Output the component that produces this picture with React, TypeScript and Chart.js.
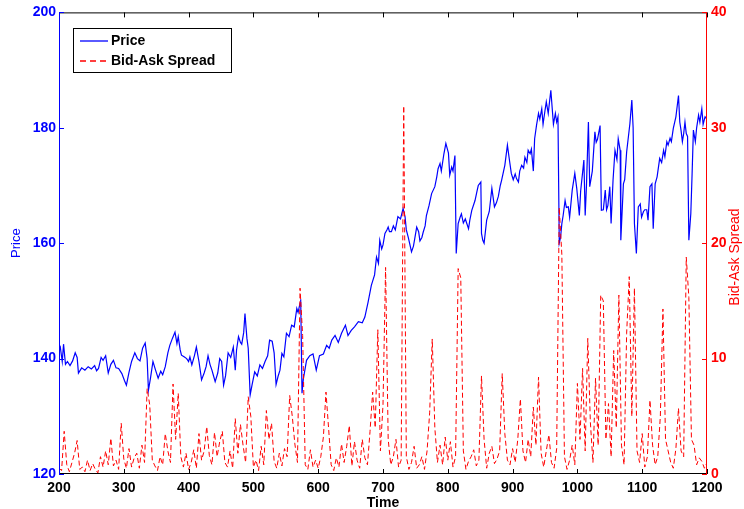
import React, { useEffect, useRef } from "react";
import { Chart, registerables } from "chart.js";

Chart.register(...registerables);

const priceTime = [
  200, 202, 205, 207, 210, 213, 217, 221, 225, 228, 230, 235, 240, 245, 250, 255, 258, 261, 265, 268,
  272, 276, 280, 284, 288, 292, 297, 301, 304, 308, 312, 317, 321, 325, 329, 333, 336, 338, 341, 345,
  349, 353, 357, 360, 364, 368, 371, 375, 379, 382, 384, 387, 389, 393, 397, 400, 402, 405, 409, 412,
  416, 420, 424, 427, 430, 433, 436, 438, 441, 445, 448, 451, 454, 457, 461, 465, 469, 472, 474, 477,
  480, 482, 485, 487, 490, 492, 495, 498, 502, 506, 510, 514, 518, 522, 525, 529, 532, 535, 538, 541,
  544, 547, 551, 555, 559, 563, 567, 569, 572, 573, 575, 577, 582, 587, 592, 597, 602, 608, 613, 617,
  621, 626, 631, 636, 642, 646, 651, 656, 662, 668, 672, 677, 682, 687, 690, 693, 695, 698, 700, 703,
  706, 708, 710, 713, 716, 719, 723, 727, 731, 734, 736, 739, 741, 744, 747, 749, 752, 755, 757, 760,
  762, 765, 767, 771, 775, 780, 783, 785, 788, 790, 794, 797, 801, 803, 806, 808, 811, 813, 816, 819,
  821, 824, 827, 832, 834, 837, 842, 845, 847, 851, 852, 854, 856, 860, 864, 868, 872, 875, 878, 881,
  883, 888, 892, 895, 898, 901, 904, 906, 909, 911, 914, 917, 919, 922, 924, 927, 929, 932, 934, 937,
  940, 942, 945, 947, 950, 952, 955, 959, 963, 966, 968, 970, 972, 974, 976, 978, 981, 983, 986, 988,
  992, 996, 999, 1003, 1005, 1010, 1012, 1014, 1017, 1019, 1023, 1027, 1029, 1031, 1035, 1037, 1040, 1043, 1045, 1047,
  1050, 1052, 1055, 1058, 1061, 1063, 1066, 1067, 1071, 1073, 1076, 1081, 1084, 1086, 1088, 1091, 1094, 1097, 1099, 1102,
  1104, 1107, 1109, 1112, 1115, 1117, 1120, 1123, 1127, 1130, 1133, 1135, 1138, 1140, 1143, 1145, 1148, 1152, 1156, 1158,
  1160, 1162, 1164, 1166, 1168, 1170, 1172, 1175, 1177, 1179, 1182, 1184, 1187, 1189, 1192, 1194, 1197, 1200,
];

const priceValue = [
  141.5, 142.0, 139.5, 142.5, 139.0, 139.5, 138.8, 139.6, 141.0, 140.2, 137.5, 138.4, 138.0, 138.6, 138.2, 138.8, 137.9, 138.3, 140.2, 139.7,
  140.5, 137.5, 139.0, 139.7, 138.4, 138.3, 137.4, 136.2, 135.4, 137.6, 139.5, 141.0, 140.0, 139.6, 141.8, 142.7, 140.0, 134.5, 136.5, 139.5,
  138.0, 136.6, 137.8, 137.2, 138.6, 141.0, 142.3, 143.5, 144.6, 142.6, 143.8, 141.5, 140.6, 140.3, 140.0, 139.5, 140.3, 138.9, 140.5, 142.0,
  139.5, 136.3, 137.5, 138.6, 140.5, 139.0, 138.0, 137.2, 136.0, 137.5, 140.0, 139.5, 135.4, 137.0, 141.0, 140.2, 142.0, 138.0, 141.5, 143.8,
  142.8, 142.5, 144.5, 147.8, 143.5, 141.8, 133.7, 135.5, 137.7, 137.0, 138.9, 138.3, 139.5, 140.5, 143.2, 143.0, 141.0, 135.5, 136.9, 138.0,
  140.9, 140.3, 144.4, 143.8, 145.8, 145.5, 148.7, 148.0, 149.6, 150.3, 134.0, 136.4, 139.7, 140.5, 140.8, 138.0, 140.5, 140.8, 142.3, 141.8,
  143.2, 144.0, 142.8, 144.4, 145.8, 144.0, 144.9, 145.5, 146.4, 146.2, 147.2, 149.8, 152.7, 154.5, 157.6, 156.5, 160.5, 159.0, 159.7, 161.7,
  162.3, 162.8, 162.0, 162.0, 163.0, 162.3, 164.6, 164.2, 166.0, 164.6, 162.3, 161.0, 160.0, 158.5, 159.5, 160.8, 162.8, 162.0, 160.4, 161.0,
  161.9, 163.0, 164.8, 166.5, 168.6, 169.8, 171.5, 172.9, 173.8, 172.5, 175.5, 177.3, 175.6, 171.8, 173.2, 172.5, 175.2, 158.2, 163.4, 164.5,
  165.1, 163.5, 164.2, 162.5, 164.0, 165.7, 167.4, 169.0, 170.0, 170.6, 161.7, 160.5, 160.0, 164.0, 165.5, 169.5, 166.3, 167.0, 168.1, 170.0,
  170.9, 173.5, 177.0, 174.5, 172.1, 171.0, 172.0, 171.2, 170.6, 172.5, 173.5, 173.0, 174.9, 174.0, 176.1, 175.5, 176.3, 172.5, 178.1, 180.5,
  182.5, 181.5, 183.3, 180.6, 183.0, 184.5, 182.5, 186.5, 180.6, 182.5, 181.0, 181.9, 160.0, 161.0, 163.4, 164.8, 167.4, 166.2, 166.3, 164.5,
  169.2, 172.1, 169.5, 164.8, 169.0, 174.4, 164.8, 170.0, 181.0, 169.8, 172.5, 179.3, 177.5, 178.0, 180.4, 165.7, 165.8, 169.2, 165.8, 166.5,
  169.8, 163.4, 170.9, 176.1, 174.5, 178.1, 176.1, 160.5, 170.3, 171.0, 175.8, 180.7, 184.8, 180.0, 163.4, 158.2, 166.3, 166.8, 164.5, 165.5,
  165.8, 165.8, 164.0, 169.8, 170.3, 162.5, 170.3, 171.5, 174.7, 174.0, 176.1, 175.0, 177.6, 177.0, 178.2, 177.6, 179.9, 181.9, 185.6, 181.0,
  179.5, 177.6, 179.0, 181.0, 179.0, 178.5, 160.5, 165.1, 172.0, 179.6, 177.6, 180.0, 182.2, 181.0, 183.3, 180.6, 181.9, 181.5,
];

// Bid-ask spread sampled every 4 time units starting at 200
const spreadStart = 200;
const spreadStep = 4;
const spreadValue = [
  0.5, 0.3, 3.7, 0.8, 0.2, 1.0, 1.8, 2.9, 0.4, 0.6,
  0.2, 1.2, 0.3, 0.9, 0.4, 0.1, 1.5, 0.6, 2.0, 0.8,
  3.1, 0.7, 1.2, 0.4, 4.4, 1.3, 0.5, 2.2, 0.6, 1.4,
  1.8, 0.5, 2.5, 1.0, 7.4, 6.0, 1.2, 0.7, 0.3, 1.5,
  0.8, 3.5, 2.0, 1.0, 7.8, 3.0, 7.0, 1.5, 0.6, 1.8,
  0.4, 1.0, 2.1, 0.5, 3.5, 1.2, 2.0, 4.1, 1.6, 0.8,
  3.6, 1.5, 2.8, 3.7, 1.0, 0.6, 2.0, 0.5, 4.8, 1.8,
  4.3, 2.5, 1.0, 6.7, 5.0, 0.6, 1.2, 0.3, 2.4, 0.8,
  5.5, 3.0, 4.4, 1.1, 0.5, 1.8, 0.7, 2.2, 1.5, 6.8,
  5.0, 2.6, 1.0, 16.1, 12.0, 0.8, 0.4, 2.1, 0.6, 1.2,
  0.5, 1.5, 3.2, 7.1, 4.0, 0.8, 0.3, 1.4, 0.6, 2.6,
  1.0, 2.4, 4.2, 0.7, 2.8, 1.2, 0.5, 3.0, 1.4, 0.8,
  3.7, 7.1, 4.0, 12.5, 2.0, 6.0, 17.9, 3.0, 0.8, 1.5,
  3.0, 0.6, 1.2, 31.9, 1.5, 0.4, 1.0, 2.4, 0.5, 0.8,
  1.5, 0.4, 2.0, 5.3, 11.7, 4.0, 1.0, 2.5, 0.8, 3.2,
  1.2, 2.8, 0.6, 1.5, 17.8, 17.0, 2.0, 0.4, 1.1, 1.5,
  2.1, 0.7, 1.2, 8.5, 3.0, 0.5, 1.8, 2.4, 0.9, 1.3,
  2.0, 8.7, 3.5, 1.2, 0.8, 2.2, 1.0, 3.0, 6.5, 2.0,
  1.0, 3.0, 1.5, 5.8, 2.5, 8.4, 1.8, 0.6, 2.0, 3.4,
  1.0, 0.5, 2.2, 23.1, 19.0, 1.5, 0.4, 1.2, 2.5, 0.8,
  7.85, 3.0, 9.15, 2.0, 11.75, 4.5, 1.0, 8.3, 2.5, 15.5,
  15.0, 3.0, 6.1, 1.5, 10.7, 4.0, 15.5, 2.5, 0.8, 12.2,
  17.1, 5.0, 16.1, 2.0, 1.0, 3.5, 0.6, 1.5, 6.4, 2.5,
  0.8, 1.5, 5.0, 14.3, 3.0, 2.0, 1.0, 0.5, 2.2, 5.7,
  2.0, 1.5, 18.8, 15.3, 3.0, 2.5, 0.8, 1.4, 1.1, 0.5,
  1.0,
];

const timeTicks = [200, 300, 400, 500, 600, 700, 800, 900, 1000, 1100, 1200];
const priceTicks = [120, 140, 160, 180, 200];
const spreadTicks = [0, 10, 20, 30, 40];

const BLUE = "#0000ff";
const RED = "#ff0000";
const FONT = "'Liberation Sans', Arial, Helvetica, sans-serif";

const framePlugin = {
  id: "framePlugin",
  afterDraw(chart: any) {
    const { ctx, chartArea, scales } = chart;
    const { left, right, top, bottom } = chartArea;
    const tl = 5;
    ctx.save();
    ctx.lineWidth = 1;
    ctx.setLineDash([]);
    // top & bottom borders
    ctx.strokeStyle = "#000";
    ctx.beginPath();
    ctx.moveTo(left, top + 0.5);
    ctx.lineTo(right, top + 0.5);
    ctx.moveTo(left, bottom - 0.5);
    ctx.lineTo(right, bottom - 0.5);
    for (const v of timeTicks) {
      const x = Math.round(scales.x.getPixelForValue(v)) + 0.5;
      ctx.moveTo(x, bottom);
      ctx.lineTo(x, bottom - tl);
      ctx.moveTo(x, top);
      ctx.lineTo(x, top + tl);
    }
    ctx.stroke();
    // left axis
    ctx.strokeStyle = BLUE;
    ctx.beginPath();
    ctx.moveTo(left + 0.5, top);
    ctx.lineTo(left + 0.5, bottom);
    for (const v of priceTicks) {
      const y = Math.round(scales.y.getPixelForValue(v)) + 0.5;
      ctx.moveTo(left, y);
      ctx.lineTo(left + tl, y);
    }
    ctx.stroke();
    // right axis
    ctx.strokeStyle = RED;
    ctx.beginPath();
    ctx.moveTo(right - 0.5, top);
    ctx.lineTo(right - 0.5, bottom);
    for (const v of spreadTicks) {
      const y = Math.round(scales.y2.getPixelForValue(v)) + 0.5;
      ctx.moveTo(right, y);
      ctx.lineTo(right - tl, y);
    }
    ctx.stroke();

    // right axis title (reads bottom to top)
    ctx.fillStyle = RED;
    ctx.font = `14px ${FONT}`;
    ctx.textAlign = "center";
    ctx.textBaseline = "middle";
    ctx.save();
    ctx.translate(735, 257);
    ctx.rotate(-Math.PI / 2);
    ctx.fillText("Bid-Ask Spread", 0, 0);
    ctx.restore();

    // legend
    const lx = 73.5, ly = 28.5, lw = 158, lh = 44;
    ctx.fillStyle = "#fff";
    ctx.fillRect(lx, ly, lw, lh);
    ctx.strokeStyle = "#000";
    ctx.lineWidth = 1;
    ctx.strokeRect(lx, ly, lw, lh);
    ctx.lineWidth = 1.3;
    ctx.strokeStyle = BLUE;
    ctx.beginPath();
    ctx.moveTo(80, 41);
    ctx.lineTo(108, 41);
    ctx.stroke();
    ctx.strokeStyle = RED;
    ctx.setLineDash([6, 4]);
    ctx.beginPath();
    ctx.moveTo(80, 61);
    ctx.lineTo(108, 61);
    ctx.stroke();
    ctx.setLineDash([]);
    ctx.fillStyle = "#000";
    ctx.font = `bold 14px ${FONT}`;
    ctx.textAlign = "left";
    ctx.textBaseline = "middle";
    ctx.fillText("Price", 111, 41);
    ctx.fillText("Bid-Ask Spread", 111, 61);
    ctx.restore();
  },
};

export default function App() {
  const canvasRef = useRef<HTMLCanvasElement | null>(null);

  useEffect(() => {
    if (!canvasRef.current) return;
    const priceData = priceTime.map((t, i) => ({ x: t, y: priceValue[i] }));
    const spreadData = spreadValue.map((v, i) => ({ x: spreadStart + i * spreadStep, y: v }));
    const chart = new Chart(canvasRef.current, {
      type: "line",
      data: {
        datasets: [
          {
            label: "Bid-Ask Spread",
            data: spreadData,
            yAxisID: "y2",
            borderColor: RED,
            borderWidth: 1,
            borderDash: [5, 3],
            pointRadius: 0,
            tension: 0,
            fill: false,
          },
          {
            label: "Price",
            data: priceData,
            yAxisID: "y",
            borderColor: BLUE,
            borderWidth: 1.2,
            pointRadius: 0,
            tension: 0,
            fill: false,
          },
        ],
      },
      options: {
        animation: false,
        responsive: false,
        maintainAspectRatio: false,
        layout: { padding: { top: 12, left: 0, right: 0, bottom: 0 } },
        plugins: { legend: { display: false }, tooltip: { enabled: false } },
        scales: {
          x: {
            type: "linear",
            min: 200,
            max: 1200,
            afterBuildTicks: (s: any) => {
              s.ticks = timeTicks.map((v) => ({ value: v }));
            },
            afterFit: (s: any) => {
              s.height = 35;
            },
            grid: { display: false, drawTicks: false },
            border: { display: false },
            ticks: {
              color: "#000",
              font: { family: FONT, size: 14, weight: "bold" },
              padding: 6,
              maxRotation: 0,
              autoSkip: false,
              callback: (v: any) => String(v),
            },
            title: {
              display: true,
              text: "Time",
              color: "#000",
              font: { family: FONT, size: 14, weight: "bold" },
              padding: { top: 0, bottom: -3 },
            },
          },
          y: {
            type: "linear",
            position: "left",
            min: 120,
            max: 200,
            afterBuildTicks: (s: any) => {
              s.ticks = priceTicks.map((v) => ({ value: v }));
            },
            afterFit: (s: any) => {
              s.width = 59;
            },
            grid: { display: false, drawTicks: false },
            border: { display: false },
            ticks: {
              color: BLUE,
              font: { family: FONT, size: 14, weight: "bold" },
              padding: 3,
              callback: (v: any) => String(v),
            },
            title: {
              display: true,
              text: "Price",
              color: BLUE,
              font: { family: FONT, size: 13 },
              padding: { top: 9, bottom: 0 },
            },
          },
          y2: {
            type: "linear",
            position: "right",
            min: 0,
            max: 40,
            afterBuildTicks: (s: any) => {
              s.ticks = spreadTicks.map((v) => ({ value: v }));
            },
            afterFit: (s: any) => {
              s.width = 37;
            },
            grid: { display: false, drawTicks: false },
            border: { display: false },
            ticks: {
              color: RED,
              font: { family: FONT, size: 14, weight: "bold" },
              padding: 4,
              callback: (v: any) => String(v),
            },
          },
        },
      },
      plugins: [framePlugin],
    } as any);
    return () => chart.destroy();
  }, []);

  return (
    <div style={{ position: "fixed", left: 0, top: 0, width: 744, height: 509, background: "#fff" }}>
      <canvas ref={canvasRef} width={744} height={509} style={{ display: "block", width: 744, height: 509 }} />
    </div>
  );
}
